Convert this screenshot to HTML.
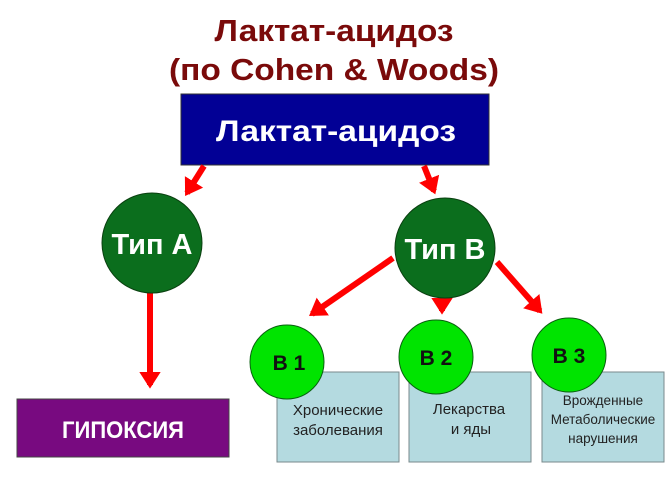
<!DOCTYPE html>
<html><head><meta charset="utf-8"><style>
html,body{margin:0;padding:0;background:#fff;}
svg{display:block;font-family:"Liberation Sans","Noto Sans CJK SC",sans-serif;}
</style></head><body>
<svg width="671" height="502" viewBox="0 0 671 502" xmlns="http://www.w3.org/2000/svg">
<defs>
<marker id="ah" markerWidth="4" markerHeight="4" refX="2.2" refY="2" orient="auto" markerUnits="strokeWidth">
<path d="M0,0.2 L2.8,2 L0,3.8 Z" fill="#f00"/>
</marker>
</defs>
<rect width="671" height="502" fill="#fff"/>
<text x="334" y="41" text-anchor="middle" font-size="31" font-weight="bold" fill="#7a0a0a" textLength="239" lengthAdjust="spacingAndGlyphs">Лактат-ацидоз</text>
<text x="334" y="80" text-anchor="middle" font-size="31" font-weight="bold" fill="#7a0a0a" textLength="330" lengthAdjust="spacingAndGlyphs">(по Cohen &amp; Woods)</text>
<rect x="181" y="94" width="308" height="71" fill="#020095" stroke="#333" stroke-width="1"/>
<text x="336" y="141" text-anchor="middle" font-size="30" font-weight="bold" fill="#fff" textLength="240" lengthAdjust="spacingAndGlyphs">Лактат-ацидоз</text>
<g stroke="#f00" stroke-width="6" fill="none" marker-end="url(#ah)">
<line x1="204" y1="166" x2="187" y2="193"/>
<line x1="424" y1="166" x2="434" y2="191"/>
<line x1="150" y1="293" x2="150" y2="385"/>
<line x1="393" y1="258" x2="312" y2="314"/>
<line x1="442" y1="294" x2="442" y2="311"/>
<line x1="497" y1="262" x2="540" y2="311"/>
</g>
<circle cx="152" cy="243" r="50" fill="#0b6e1d" stroke="#0a4010" stroke-width="1"/>
<text x="152" y="254" text-anchor="middle" font-size="29" font-weight="bold" fill="#fff">Тип А</text>
<circle cx="445" cy="248" r="50" fill="#0b6e1d" stroke="#0a4010" stroke-width="1"/>
<text x="445" y="259" text-anchor="middle" font-size="29" font-weight="bold" fill="#fff">Тип В</text>
<rect x="17" y="399" width="212" height="58" fill="#780a80" stroke="#444" stroke-width="1"/>
<text x="123" y="438" text-anchor="middle" font-size="24" font-weight="bold" fill="#fff" textLength="122" lengthAdjust="spacingAndGlyphs">ГИПОКСИЯ</text>
<g fill="#b4dae0" stroke="#7a8a8c" stroke-width="1">
<rect x="277" y="372" width="122" height="90"/>
<rect x="409" y="372" width="122" height="90"/>
<rect x="542" y="372" width="122" height="90"/>
</g>
<g font-size="15" fill="#222" text-anchor="middle">
<text x="338" y="415">Хронические</text>
<text x="338" y="435">заболевания</text>
<text x="469" y="414">Лекарства</text>
<text x="471" y="434">и яды</text>
<text x="603" y="405" font-size="13.5">Врожденные</text>
<text x="603" y="424" font-size="13.5">Метаболические</text>
<text x="603" y="443" font-size="13.5">нарушения</text>
</g>
<g fill="#00e400" stroke="#0a6010" stroke-width="1">
<circle cx="287" cy="362" r="37"/>
<circle cx="436" cy="357" r="37"/>
<circle cx="569" cy="355" r="37"/>
</g>
<g font-size="21" font-weight="bold" fill="#111" text-anchor="middle">
<text x="289" y="370">В 1</text>
<text x="436" y="365">В 2</text>
<text x="569" y="363">В 3</text>
</g>
</svg>
</body></html>
